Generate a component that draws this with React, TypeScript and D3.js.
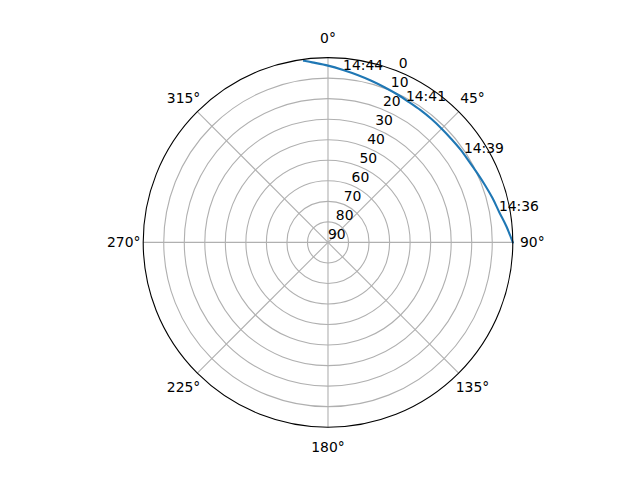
import React, { useEffect, useRef } from 'react';
import * as d3 from 'd3';

// satellite pass, azimuth (deg, clockwise from north) and elevation (deg)
const azimuth = [90, 85, 80, 75, 70, 65, 60, 55, 50, 45, 40, 35, 30, 25, 20, 15, 10, 5, 0, 355, 352.5];
const elevation = [0, 2.7, 5.3, 7.0, 8.6, 9.9, 10.8, 11.2, 11.6, 11.7, 11.6, 11.4, 11.1, 10.4, 9.6, 8.5, 7.2, 5.7, 3.9, 2.0, 0.8];

const timeLabels = ['14:36', '14:39', '14:41', '14:44'];
const timeAzimuth = [79.7, 56.8, 28.8, 5.0];
const timeElevation = [5.4, 10.9, 11.2, 5.7];

const thetaTicks = [0, 45, 90, 135, 180, 225, 270, 315];
const radialTicks = [0, 10, 20, 30, 40, 50, 60, 70, 80, 90];

const App: React.FC = () => {
  const svgRef = useRef<SVGSVGElement>(null);

  useEffect(() => {
    if (!svgRef.current) return;
    const width = 640;
    const height = 480;
    const cx = 328;
    const cy = 242.4;
    const R = 184.8;
    const font = 'DejaVu Sans, sans-serif';
    const fs = 13.9;

    const svg = d3.select(svgRef.current);
    svg.selectAll('*').remove();
    svg.attr('width', width).attr('height', height);

    svg.append('rect').attr('width', width).attr('height', height).attr('fill', '#fff');

    const g = svg.append('g').attr('transform', `translate(${cx},${cy})`);

    const r = d3.scaleLinear().domain([90, 0]).range([0, R]);
    const a = d3.scaleLinear().domain([0, 360]).range([0, 2 * Math.PI]);

    // rings
    g.selectAll('circle.ring')
      .data(radialTicks.filter(t => t > 0 && t < 90))
      .join('circle')
      .attr('class', 'ring')
      .attr('r', d => r(d))
      .attr('fill', 'none')
      .attr('stroke', '#b0b0b0')
      .attr('stroke-width', 1.1);

    // spokes
    g.selectAll('line.spoke')
      .data(thetaTicks)
      .join('line')
      .attr('class', 'spoke')
      .attr('x1', 0)
      .attr('y1', 0)
      .attr('x2', d => d3.pointRadial(a(d), R)[0])
      .attr('y2', d => d3.pointRadial(a(d), R)[1])
      .attr('stroke', '#b0b0b0')
      .attr('stroke-width', 1.1);

    // track
    const line = d3.lineRadial<number>()
      .angle((_, i) => a(azimuth[i]))
      .radius((_, i) => r(elevation[i]))
      .curve(d3.curveCatmullRom);

    g.append('path')
      .attr('d', line(azimuth))
      .attr('fill', 'none')
      .attr('stroke', '#1f77b4')
      .attr('stroke-width', 2.1)
      .attr('stroke-linecap', 'square');

    // outer spine
    g.append('circle')
      .attr('r', R)
      .attr('fill', 'none')
      .attr('stroke', '#000')
      .attr('stroke-width', 1.1);

    // radial labels at 22.5 deg
    g.selectAll('text.rlabel')
      .data(radialTicks)
      .join('text')
      .attr('class', 'rlabel')
      .attr('x', d => d3.pointRadial(a(22.5), r(d))[0])
      .attr('y', d => d3.pointRadial(a(22.5), r(d))[1] - 3.3)
      .attr('font-family', font)
      .attr('font-size', fs)
      .attr('fill', '#000')
      .text(d => String(d));

    // theta labels
    g.selectAll('text.tlabel')
      .data(thetaTicks)
      .join('text')
      .attr('class', 'tlabel')
      .attr('x', d => d3.pointRadial(a(d), R + 19.5)[0])
      .attr('y', d => d3.pointRadial(a(d), R + 19.5)[1])
      .attr('text-anchor', 'middle')
      .attr('dominant-baseline', 'central')
      .attr('font-family', font)
      .attr('font-size', fs)
      .attr('fill', '#000')
      .text(d => `${d}°`);

    // time annotations
    g.selectAll('text.time')
      .data(timeLabels)
      .join('text')
      .attr('class', 'time')
      .attr('x', (_, i) => d3.pointRadial(a(timeAzimuth[i]), r(timeElevation[i]))[0])
      .attr('y', (_, i) => d3.pointRadial(a(timeAzimuth[i]), r(timeElevation[i]))[1])
      .attr('font-family', font)
      .attr('font-size', fs)
      .attr('fill', '#000')
      .text(d => d);
  }, []);

  return (
    <svg
      ref={svgRef}
      style={{ position: 'absolute', left: 0, top: 0, display: 'block' }}
    />
  );
};

export default App;
